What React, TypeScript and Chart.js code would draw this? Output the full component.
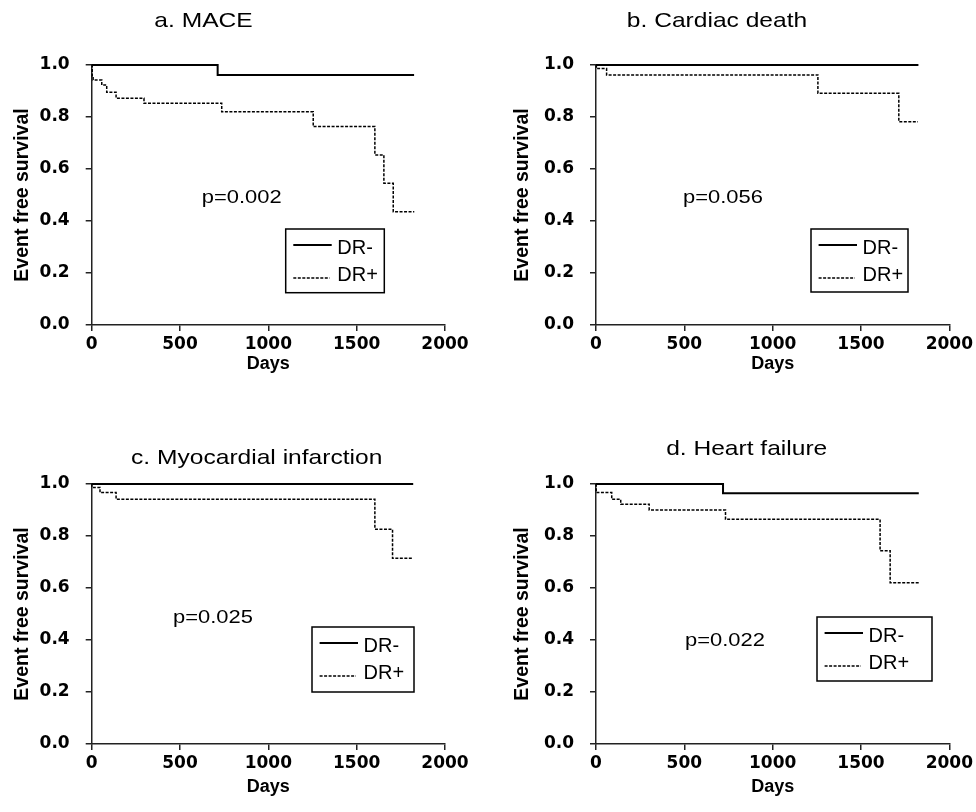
import React, { useEffect, useRef } from 'react';
import { Chart, registerables } from 'chart.js';

Chart.register(...registerables);

// ---- data ----
const X_TICKS = [0, 500, 1000, 1500, 2000];
const Y_TICKS = [0, 0.2, 0.4, 0.6, 0.8, 1.0];
const SERIES_LABELS = ['DR-', 'DR+'];

const MACE_DRN_DAYS = [0, 713, 1825];
const MACE_DRN_SURV = [1.0, 0.962, 0.962];
const MACE_DRP_DAYS = [0, 3, 8, 57, 85, 138, 296, 736, 1254, 1603, 1654, 1707, 1826];
const MACE_DRP_SURV = [1.0, 0.958, 0.942, 0.923, 0.895, 0.872, 0.853, 0.82, 0.763, 0.654, 0.545, 0.436, 0.436];

const CD_DRN_DAYS = [0, 1825];
const CD_DRN_SURV = [1.0, 1.0];
const CD_DRP_DAYS = [0, 2, 60, 1256, 1714, 1822];
const CD_DRP_SURV = [1.0, 0.987, 0.962, 0.891, 0.782, 0.782];

const MI_DRN_DAYS = [0, 1820];
const MI_DRN_SURV = [1.0, 1.0];
const MI_DRP_DAYS = [0, 1, 47, 138, 1603, 1703, 1820];
const MI_DRP_SURV = [1.0, 0.987, 0.967, 0.941, 0.826, 0.714, 0.714];

const HF_DRN_DAYS = [0, 719, 1827];
const HF_DRN_SURV = [1.0, 0.964, 0.964];
const HF_DRP_DAYS = [0, 1, 89, 140, 301, 733, 1608, 1665, 1827];
const HF_DRP_SURV = [1.0, 0.967, 0.941, 0.922, 0.9, 0.864, 0.743, 0.62, 0.62];

const TITLES = ['a. MACE', 'b. Cardiac death', 'c. Myocardial infarction', 'd. Heart failure'];
const P_VALUES = ['p=0.002', 'p=0.056', 'p=0.025', 'p=0.022'];
const X_TITLE = 'Days';
const Y_TITLE = 'Event free survival';

// ---- layout / style ----
const W = 488;
const H = 406;
const TXT = '"Liberation Sans", Arial, sans-serif';
const TICK_FONT = '"DejaVu Sans", sans-serif';

type Box = { x: number; y: number; w: number; h: number };
type PanelCfg = {
  title: string;
  pValue: string;
  pageX: number;
  pageY: number;
  area: { l: number; t: number; r: number; b: number };
  titlePos: { x: number; y: number };
  pPos: { x: number; y: number };
  legend: Box;
  yTitleX: number;
  daysY: number;
  drnDays: number[];
  drnSurv: number[];
  drpDays: number[];
  drpSurv: number[];
};

const PANELS: PanelCfg[] = [
  {
    title: TITLES[0], pValue: P_VALUES[0], pageX: 0, pageY: 0,
    area: { l: 91.7, t: 65, r: 445, b: 325 },
    titlePos: { x: 203.5, y: 27 }, pPos: { x: 201.7, y: 203.3 },
    legend: { x: 285.7, y: 229, w: 98.6, h: 63.7 }, yTitleX: 23, daysY: 364,
    drnDays: MACE_DRN_DAYS, drnSurv: MACE_DRN_SURV, drpDays: MACE_DRP_DAYS, drpSurv: MACE_DRP_SURV,
  },
  {
    title: TITLES[1], pValue: P_VALUES[1], pageX: W, pageY: 0,
    area: { l: 108, t: 65, r: 462, b: 325 },
    titlePos: { x: 229, y: 27 }, pPos: { x: 195, y: 203 },
    legend: { x: 323, y: 229, w: 97, h: 63 }, yTitleX: 35, daysY: 364,
    drnDays: CD_DRN_DAYS, drnSurv: CD_DRN_SURV, drpDays: CD_DRP_DAYS, drpSurv: CD_DRP_SURV,
  },
  {
    title: TITLES[2], pValue: P_VALUES[2], pageX: 0, pageY: H,
    area: { l: 91.7, t: 78, r: 445, b: 338 },
    titlePos: { x: 256.7, y: 58 }, pPos: { x: 173, y: 217 },
    legend: { x: 312, y: 221, w: 102, h: 65 }, yTitleX: 23, daysY: 381,
    drnDays: MI_DRN_DAYS, drnSurv: MI_DRN_SURV, drpDays: MI_DRP_DAYS, drpSurv: MI_DRP_SURV,
  },
  {
    title: TITLES[3], pValue: P_VALUES[3], pageX: W, pageY: H,
    area: { l: 108, t: 78, r: 462, b: 338 },
    titlePos: { x: 258.7, y: 49 }, pPos: { x: 197, y: 240 },
    legend: { x: 329, y: 211, w: 115, h: 64 }, yTitleX: 35, daysY: 381,
    drnDays: HF_DRN_DAYS, drnSurv: HF_DRN_SURV, drpDays: HF_DRP_DAYS, drpSurv: HF_DRP_SURV,
  },
];

function stretchedText(
  ctx: CanvasRenderingContext2D, text: string, x: number, y: number,
  font: string, sx: number, align: 'left' | 'center'
) {
  ctx.save();
  ctx.font = font;
  ctx.textAlign = 'left';
  ctx.textBaseline = 'alphabetic';
  ctx.fillStyle = '#000';
  const w = ctx.measureText(text).width * sx;
  const x0 = align === 'center' ? x - w / 2 : x;
  ctx.translate(x0, y);
  ctx.scale(sx, 1);
  ctx.fillText(text, 0, 0);
  ctx.restore();
}

function Panel({ cfg }: { cfg: PanelCfg }) {
  const ref = useRef<HTMLCanvasElement | null>(null);

  useEffect(() => {
    if (!ref.current) return;
    const yTitleFont = 19.5;
    const xTitleFont = 18;
    const decor = {
      id: 'kmDecor',
      afterDraw(chart: any) {
        const ctx: CanvasRenderingContext2D = chart.ctx;
        stretchedText(ctx, cfg.title, cfg.titlePos.x, cfg.titlePos.y, `21px ${TXT}`, 1.17, 'center');
        stretchedText(ctx, cfg.pValue, cfg.pPos.x, cfg.pPos.y, `18.6px ${TXT}`, 1.18, 'left');
        const L = cfg.legend;
        ctx.save();
        ctx.fillStyle = '#fff';
        ctx.fillRect(L.x, L.y, L.w, L.h);
        ctx.strokeStyle = '#000';
        ctx.lineWidth = 1.5;
        ctx.strokeRect(L.x, L.y, L.w, L.h);
        const ds = chart.data.datasets;
        ctx.beginPath();
        ctx.setLineDash([]);
        ctx.lineWidth = 2;
        ctx.moveTo(L.x + 7.6, L.y + 16);
        ctx.lineTo(L.x + 46, L.y + 16);
        ctx.stroke();
        ctx.beginPath();
        ctx.setLineDash([3, 1.5]);
        ctx.lineWidth = 1.5;
        ctx.moveTo(L.x + 7.6, L.y + 49);
        ctx.lineTo(L.x + 44, L.y + 49);
        ctx.stroke();
        ctx.setLineDash([]);
        ctx.restore();
        stretchedText(ctx, ds[0].label, L.x + 51.6, L.y + 25.3, `20px ${TXT}`, 1.0, 'left');
        stretchedText(ctx, ds[1].label, L.x + 51.6, L.y + 52, `20px ${TXT}`, 1.0, 'left');
      },
    };

    const toPts = (d: number[], s: number[]) => d.map((x, i) => ({ x, y: s[i] }));

    const chart = new Chart(ref.current, {
      type: 'line',
      data: {
        datasets: [
          {
            label: SERIES_LABELS[0],
            data: toPts(cfg.drnDays, cfg.drnSurv),
            borderColor: '#000',
            borderWidth: 2,
            stepped: 'before',
            pointRadius: 0,
            fill: false,
            clip: false as any,
          },
          {
            label: SERIES_LABELS[1],
            data: toPts(cfg.drpDays, cfg.drpSurv),
            borderColor: '#000',
            borderWidth: 1.5,
            borderDash: [3, 1.5],
            stepped: 'before',
            pointRadius: 0,
            fill: false,
            clip: false as any,
          },
        ],
      },
      options: {
        responsive: false,
        animation: false,
        devicePixelRatio: 1,
        layout: {
          padding: { left: 0, top: cfg.area.t, right: W - cfg.area.r, bottom: 0 },
        },
        plugins: {
          legend: { display: false },
          title: { display: false },
          tooltip: { enabled: false },
        },
        scales: {
          x: {
            type: 'linear',
            min: X_TICKS[0],
            max: X_TICKS[X_TICKS.length - 1],
            afterBuildTicks: (scale: any) => {
              scale.ticks = X_TICKS.map((v) => ({ value: v }));
            },
            afterFit: (scale: any) => {
              scale.height = H - cfg.area.b;
            },
            grid: {
              drawOnChartArea: false,
              drawTicks: true,
              tickLength: 6,
              color: '#222',
              lineWidth: 1.5,
            },
            border: { display: true, color: '#222', width: 1.5 },
            ticks: {
              color: '#000',
              padding: 3,
              maxRotation: 0,
              font: { family: TICK_FONT, size: 17, weight: 'bold' },
              callback: (v: any) => String(v),
            },
            title: {
              display: true,
              text: X_TITLE,
              color: '#000',
              font: { family: TXT, size: xTitleFont, weight: 'bold' },
              padding: { top: 0, bottom: H - cfg.daysY - (xTitleFont * 1.2) / 2 },
            },
          },
          y: {
            type: 'linear',
            min: Y_TICKS[0],
            max: Y_TICKS[Y_TICKS.length - 1],
            afterBuildTicks: (scale: any) => {
              scale.ticks = Y_TICKS.map((v) => ({ value: v }));
            },
            afterFit: (scale: any) => {
              scale.width = cfg.area.l;
            },
            grid: {
              drawOnChartArea: false,
              drawTicks: true,
              tickLength: 6,
              color: '#222',
              lineWidth: 1.5,
            },
            border: { display: true, color: '#222', width: 1.5 },
            ticks: {
              color: '#000',
              padding: 16,
              font: { family: TICK_FONT, size: 17, weight: 'bold' },
              callback: (v: any) => Number(v).toFixed(1),
            },
            title: {
              display: true,
              text: Y_TITLE,
              color: '#000',
              font: { family: TXT, size: yTitleFont, weight: 'bold' },
              padding: { top: cfg.yTitleX - (yTitleFont * 1.2) / 2, bottom: 0 },
            },
          },
        },
      } as any,
      plugins: [decor],
    });
    return () => chart.destroy();
  }, [cfg]);

  return (
    <canvas
      ref={ref}
      width={W}
      height={H}
      style={{ position: 'absolute', left: cfg.pageX, top: cfg.pageY, width: W, height: H }}
    />
  );
}

export default function App() {
  return (
    <div style={{ position: 'absolute', left: 0, top: 0, width: 976, height: 812, background: '#fff' }}>
      {PANELS.map((p) => (
        <Panel key={p.title} cfg={p} />
      ))}
    </div>
  );
}
